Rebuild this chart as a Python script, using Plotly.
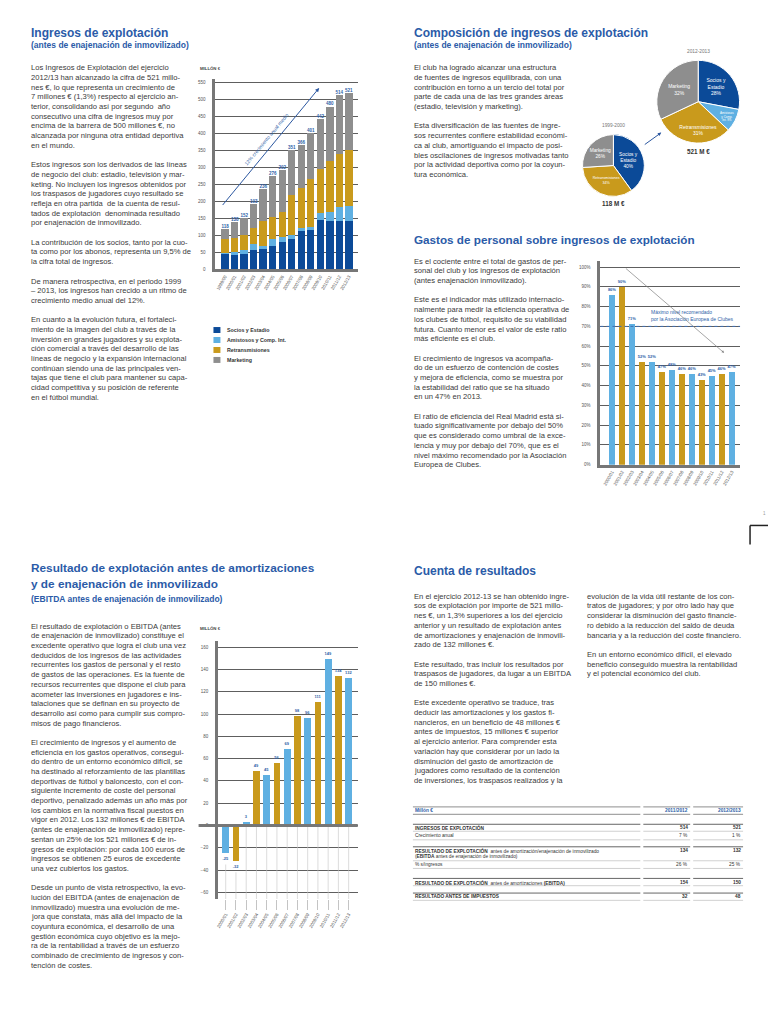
import plotly.graph_objects as go

W, H = 768, 1024
def px(x): return x / W
def py(y): return 1 - y / H

# ---------------- DATA ----------------
seasons_ing = ["1999/00", "2000/01", "2001/02", "2002/03", "2003/04", "2004/05", "2005/06",
               "2006/07", "2007/08", "2008/09", "2009/10", "2010/11", "2011/12", "2012/13"]
comp_names = ["Socios y Estadio", "Amistosos y Comp. Int.", "Retransmisiones", "Marketing"]
socios = [46, 42, 46, 56, 60, 69, 79, 88, 113, 117, 145, 143, 143, 143]
amistosos = [2, 8, 10, 17, 9, 21, 17, 13, 9, 9, 21, 27, 41, 44]
retrans = [40, 43, 46, 50, 74, 65, 74, 117, 119, 140, 130, 148, 157, 164]
marketing = [30, 45, 50, 70, 93, 121, 122, 133, 125, 135, 146, 162, 173, 170]
totals = [118, 138, 152, 193, 236, 276, 292, 351, 366, 401, 442, 480, 514, 521]
trend_label = "12% crecimiento anual medio"

pie1_title, pie2_title = "1999-2000", "2012-2013"
pie1_names = ["Socios y Estadio", "Retransmisiones", "Marketing"]
pie1_pct = [40, 34, 26]
pie2_names = ["Socios y Estadio", "Amistosos y Comp. Int.", "Retransmisiones", "Marketing"]
pie2_pct = [28, 9, 31, 32]
pie1_text = ["Socios y<br>Estadio<br>40%", "Retransmisiones<br>34%", "Marketing<br>26%"]
pie2_text = ["Socios y<br>Estadio<br>28%", "Amistosos<br>y Comp.<br>Int. 9%", "Retransmisiones<br>31%", "Marketing<br>32%"]

seasons_13 = ["2000/01", "2001/02", "2002/03", "2003/04", "2004/05", "2005/06", "2006/07",
              "2007/08", "2008/09", "2009/10", "2010/11", "2011/12", "2012/13"]
ratio_personal = [86, 90, 71, 52, 52, 47, 48, 46, 46, 43, 45, 46, 47]
max_recomendado = 70
ebitda = [-25, -32, 3, 49, 45, 56, 69, 98, 96, 111, 149, 134, 132]

table_years = ["2011/2012", "2012/2013"]
table_labels = [
    "<b>INGRESOS DE EXPLOTACIÓN</b>",
    "Crecimiento anual",
    "<b>RESULTADO DE EXPLOTACIÓN</b>  antes de amortización/enajenación de inmovilizado",
    "% s/ingresos",
    "<b>RESULTADO DE EXPLOTACIÓN</b>  antes de amortizaciones <b>(EBITDA)</b>",
    "<b>RESULTADO ANTES DE IMPUESTOS</b>",
]
table_v1 = ["514", "7 %", "134", "26 %", "154", "32"]
table_v2 = ["521", "1 %", "132", "25 %", "150", "48"]
table_bold = [True, False, True, False, True, True]

# ---------------- STYLE ----------------
C_SOC, C_AMI, C_RET, C_MKT = "#0b4a98", "#5fb0e2", "#c99a1c", "#8e8e8e"
comp_colors = [C_SOC, C_AMI, C_RET, C_MKT]
TITLE = "#2b5ba8"
LBL = "#2e5fa8"
TXT = "#3a3a3a"
AX = "#777777"
GRID = "#5e5e5e"
FONT = "Liberation Sans"
NARROW = "Liberation Sans Narrow, Liberation Sans"

fig = go.Figure()

# ---- Chart 1: stacked revenue ----
for name, vals, col in zip(comp_names, [socios, amistosos, retrans, marketing], comp_colors):
    fig.add_trace(go.Bar(x=seasons_ing, y=vals, name=name, marker=dict(color=col, line_width=0),
                         width=0.78, xaxis="x", yaxis="y", showlegend=False, hoverinfo="skip"))
fig.add_trace(go.Scatter(x=seasons_ing, y=totals, mode="text", text=[f"<b>{t}</b>" for t in totals],
                         textposition="top center", textfont=dict(size=4.5, color=LBL, family=FONT),
                         cliponaxis=False, xaxis="x", yaxis="y", showlegend=False, hoverinfo="skip"))

# ---- Chart 2: staff cost ratio ----
alt_colors = [C_AMI if i % 2 == 0 else C_RET for i in range(len(seasons_13))]
fig.add_trace(go.Bar(x=seasons_13, y=ratio_personal, marker=dict(color=alt_colors, line_width=0),
                     width=0.66, text=[f"<b>{v}%</b>" for v in ratio_personal], textposition="outside",
                     constraintext="none", cliponaxis=False,
                     textfont=dict(size=4, color=LBL, family=FONT),
                     xaxis="x2", yaxis="y2", showlegend=False, hoverinfo="skip"))

# ---- Chart 3: EBITDA ----
lx, ly = [], []
for s, v in zip(seasons_13, ebitda):
    start = 0 if v >= 0 else v - 10
    lx += [s, s, None]
    ly += [start, -66, None]
fig.add_trace(go.Scatter(x=lx, y=ly, mode="lines", line=dict(color="#c4c4c4", width=0.6),
                         xaxis="x3", yaxis="y3", showlegend=False, hoverinfo="skip"))
fig.add_trace(go.Bar(x=seasons_13, y=ebitda, marker=dict(color=alt_colors, line_width=0),
                     width=0.66, text=[f"<b>{v}</b>" for v in ebitda], textposition="outside",
                     constraintext="none", cliponaxis=False,
                     textfont=dict(size=4, color=LBL, family=FONT),
                     xaxis="x3", yaxis="y3", showlegend=False, hoverinfo="skip"))

# ---- Pies ----
fig.add_trace(go.Pie(values=pie1_pct, labels=pie1_names, text=pie1_text, textinfo="text",
                     sort=False, direction="clockwise", rotation=0,
                     marker=dict(colors=[C_SOC, C_RET, C_MKT], line=dict(color="white", width=1)),
                     domain=dict(x=[px(582), px(644)], y=[py(197), py(135)]),
                     textfont=dict(size=4.8, color="white", family=FONT),
                     textposition="inside", insidetextorientation="horizontal",
                     showlegend=False, hoverinfo="skip"))
fig.add_trace(go.Pie(values=pie2_pct, labels=pie2_names, text=pie2_text, textinfo="text",
                     sort=False, direction="clockwise", rotation=0,
                     marker=dict(colors=[C_SOC, C_AMI, C_RET, C_MKT], line=dict(color="white", width=1)),
                     domain=dict(x=[px(656.5), px(739.5)], y=[py(143.5), py(60.5)]),
                     textfont=dict(size=5, color="white", family=FONT),
                     textposition="inside", insidetextorientation="horizontal",
                     showlegend=False, hoverinfo="skip"))

tickf = dict(size=4.5, color="#555555", family=FONT)
common_y = dict(showgrid=True, gridcolor=GRID, gridwidth=0.7, showline=True, linewidth=3,
                linecolor=AX, zeroline=False, ticks="", tickfont=tickf, ticklabelstandoff=6)

fig.update_layout(
    width=W, height=H, autosize=False, margin=dict(l=0, r=0, t=0, b=0),
    paper_bgcolor="white", plot_bgcolor="white", barmode="stack",
    font=dict(family=FONT, color=TXT),
    xaxis=dict(domain=[px(214), px(357)], anchor="y", range=[-1.02, 13.97], tickangle=-60,
               tickfont=tickf, showline=True, linewidth=3, linecolor=AX, showgrid=False, ticks=""),
    yaxis=dict(domain=[py(270), py(79)], anchor="x", range=[0, 562], dtick=50, tick0=0, **common_y),
    xaxis2=dict(domain=[px(600), px(740)], anchor="y2", range=[-1.17, 12.83], tickangle=-60,
                tickfont=tickf, showline=True, linewidth=3, linecolor=AX, showgrid=False, ticks=""),
    yaxis2=dict(domain=[py(466), py(262)], anchor="x2", range=[0, 103], dtick=10, tick0=0,
                ticksuffix="%", **common_y),
    xaxis3=dict(domain=[px(216.7), px(356.7)], anchor="y3", range=[-0.74, 12.89], tickangle=-60,
                tickfont=tickf, showline=False, showgrid=False, ticks="outside", ticklen=10,
                tickcolor="#c4c4c4", tickwidth=0.6),
    yaxis3=dict(domain=[py(901.7), py(642.7)], anchor="x3", range=[-66, 165.7], dtick=20, tick0=0,
                **common_y),
)

shapes = []
ann = []

def note(x, y, text, font, xanchor="center", yanchor="middle", **kw):
    ann.append(dict(xref="paper", yref="paper", x=px(x), y=py(y), text=text, showarrow=False,
                    xanchor=xanchor, yanchor=yanchor, font=font, **kw))

# EBITDA zero line (thick, extends left)
shapes.append(dict(type="line", xref="x3 domain", yref="y3", x0=-0.14, x1=1, y0=0, y1=0,
                   line=dict(color=AX, width=3)))
# 70% recommended max
shapes.append(dict(type="line", xref="x2 domain", yref="y2", x0=0, x1=1, y0=max_recomendado,
                   y1=max_recomendado, line=dict(color="#3f6fb5", width=1, dash="dot")))
ann.append(dict(xref="x2", yref="y2", x=3.73, y=75.6, xanchor="left", yanchor="middle",
                text="Máximo nivel recomendado<br>por la Asociación Europea de Clubes",
                align="left", showarrow=False, font=dict(size=5, color=LBL, family=FONT)))
ann.append(dict(xref="x2", yref="y2", axref="x2", ayref="y2", x=11.23, y=56.6, ax=1.23, ay=100,
                text="", showarrow=True, arrowhead=2, arrowsize=0.7, arrowwidth=0.7,
                arrowcolor="#808080"))
# Trend arrow chart 1
ann.append(dict(xref="x", yref="y", axref="x", ayref="y", x=9.88, y=535, ax=-0.39, ay=185,
                text="", showarrow=True, arrowhead=2, arrowsize=0.8, arrowwidth=1,
                arrowcolor="#2b57a0"))
note(265, 139, trend_label, dict(size=5, color=LBL, family=FONT), textangle=-50.5)

# Legend chart 1
for i, (name, col) in enumerate(zip(comp_names, comp_colors)):
    yc = 331 + i * 10
    shapes.append(dict(type="rect", xref="paper", yref="paper", x0=px(212), x1=px(219),
                       y0=py(yc + 3), y1=py(yc - 3), fillcolor=col, line_width=0))
    note(224, yc, f"<b>{name}</b>", dict(size=5.3, color="#333333", family=FONT), xanchor="left")

# Unit labels
for yy in (69, 630):
    note(197, yy, "<b>MILLÓN €</b>", dict(size=4.3, color="#444444", family=FONT), xanchor="left")

# Pie captions
for (xc, yt, yb, t, tot) in [(613, 126, 204, pie1_title, totals[0]), (698, 52, 152, pie2_title, totals[-1])]:
    note(xc, yt, t, dict(size=4.8, color="#777777", family=FONT))
    note(xc, yb, f"<b>{tot} M €</b>", dict(size=6.3, color="#333333", family=FONT))
ann.append(dict(xref="paper", yref="paper", axref="pixel", ayref="pixel", x=px(661), y=py(133),
                ax=-18, ay=13, text="", showarrow=True, arrowhead=2, arrowsize=0.7,
                arrowwidth=1, arrowcolor="#2b57a0"))

# ---------------- TEXT ----------------
def title(x, y, t, size=12):
    note(x, y, f"<b>{t}</b>", dict(size=size, color=TITLE, family=FONT), xanchor="left")

def block(x, y0, lines, L=9.72, size=7.6):
    for i, ln in enumerate(lines):
        if ln:
            note(x, y0 + i * L, ln, dict(size=size, color=TXT, family=FONT), xanchor="left")

title(27, 33, "Ingresos de explotación")
title(27, 45, "(antes de enajenación de inmovilizado)", 8.5)
title(411, 33, "Composición de ingresos de explotación")
title(411, 45, "(antes de enajenación de inmovilizado)", 8.5)
title(411, 240, "Gastos de personal sobre ingresos de explotación", 11.7)
title(27, 570, "Resultado de explotación antes de amortizaciones", 11.8)
title(27, 586, "y de enajenación de inmovilizado", 11.8)
title(27, 601, "(EBITDA antes de enajenación de inmovilizado)", 8.5)
title(411, 573, "Cuenta de resultados")

block(27, 68, [
    "Los Ingresos de Explotación del ejercicio",
    "2012/13 han alcanzado la cifra de 521 millo-",
    "nes €, lo que representa un crecimiento de",
    "7 millones € (1,3%) respecto al ejercicio an-",
    "terior, consolidando así por segundo  año",
    "consecutivo una cifra de ingresos muy por",
    "encima de la barrera de 500 millones €, no",
    "alcanzada por ninguna otra entidad deportiva",
    "en el mundo.",
    "",
    "Estos ingresos son los derivados de las líneas",
    "de negocio del club: estadio, televisión y mar-",
    "keting. No incluyen los ingresos obtenidos por",
    "los traspasos de jugadores cuyo resultado se",
    "refleja en otra partida  de la cuenta de resul-",
    "tados de explotación  denominada resultado",
    "por enajenación de inmovilizado.",
    "",
    "La contribución de los socios, tanto por la cuo-",
    "ta como por los abonos, representa un 9,5% de",
    "la cifra total de ingresos.",
    "",
    "De manera retrospectiva, en el periodo 1999",
    "– 2013, los ingresos han crecido a un ritmo de",
    "crecimiento medio anual del 12%.",
    "",
    "En cuanto a la evolución futura, el fortaleci-",
    "miento de la imagen del club a través de la",
    "inversión en grandes jugadores y su explota-",
    "ción comercial a través del desarrollo de las",
    "líneas de negocio y la expansión internacional",
    "continúan siendo una de las principales ven-",
    "tajas que tiene el club para mantener su capa-",
    "cidad competitiva y su posición de referente",
    "en el fútbol mundial.",
])

block(411, 68, [
    "El club ha logrado alcanzar una estructura",
    "de fuentes de ingresos equilibrada, con una",
    "contribución en torno a un tercio del total por",
    "parte de cada una de las tres grandes áreas",
    "(estadio, televisión y marketing).",
    "",
    "Esta diversificación de las fuentes de ingre-",
    "sos recurrentes confiere estabilidad económi-",
    "ca al club, amortiguando el impacto de posi-",
    "bles oscilaciones de ingresos motivadas tanto",
    "por la actividad deportiva como por la coyun-",
    "tura económica.",
])

block(411, 262, [
    "Es el cociente entre el total de gastos de per-",
    "sonal del club y los ingresos de explotación",
    "(antes enajenación inmovilizado).",
    "",
    "Este es el indicador más utilizado internacio-",
    "nalmente para medir la eficiencia operativa de",
    "los clubes de fútbol, requisito de su viabilidad",
    "futura. Cuanto menor es el valor de este ratio",
    "más eficiente es el club.",
    "",
    "El crecimiento de ingresos va acompaña-",
    "do de un esfuerzo de contención de costes",
    "y mejora de eficiencia, como se muestra por",
    "la estabilidad del ratio que se ha situado",
    "en un 47% en 2013.",
    "",
    "El ratio de eficiencia del Real Madrid está si-",
    "tuado significativamente por debajo del 50%",
    "que es considerado como umbral de la exce-",
    "lencia y muy por debajo del 70%, que es el",
    "nivel máximo recomendado por la Asociación",
    "Europea de Clubes.",
])

block(27, 628, [
    "El resultado de explotación o EBITDA (antes",
    "de enajenación de inmovilizado) constituye el",
    "excedente operativo que logra el club una vez",
    "deducidos de los ingresos de las actividades",
    "recurrentes los gastos de personal y el resto",
    "de gastos de las operaciones. Es la fuente de",
    "recursos recurrentes que dispone el club para",
    "acometer las inversiones en jugadores e ins-",
    "talaciones que se definan en su proyecto de",
    "desarrollo así como para cumplir sus compro-",
    "misos de pago financieros.",
    "",
    "El crecimiento de ingresos y el aumento de",
    "eficiencia en los gastos operativos, consegui-",
    "do dentro de un entorno económico difícil, se",
    "ha destinado al reforzamiento de las plantillas",
    "deportivas de fútbol y baloncesto, con el con-",
    "siguiente incremento de coste del personal",
    "deportivo, penalizado además un año más por",
    "los cambios en la normativa fiscal puestos en",
    "vigor en 2012. Los 132 millones € de EBITDA",
    "(antes de enajenación de inmovilizado) repre-",
    "sentan un 25% de los 521 millones € de in-",
    "gresos de explotación: por cada 100 euros de",
    "ingresos se obtienen 25 euros de excedente",
    "una vez cubiertos los gastos.",
    "",
    "Desde un punto de vista retrospectivo, la evo-",
    "lución del EBITDA (antes de enajenación de",
    "inmovilizado) muestra una evolución de me-",
    "jora que constata, más allá del impacto de la",
    "coyuntura económica, el desarrollo de una",
    "gestión económica cuyo objetivo es la mejo-",
    "ra de la rentabilidad a través de un esfuerzo",
    "combinado de crecimiento de ingresos y con-",
    "tención de costes.",
])

block(411, 598, [
    "En el ejercicio 2012-13 se han obtenido ingre-",
    "sos de explotación por importe de 521 millo-",
    "nes €, un 1,3% superiores a los del ejercicio",
    "anterior y un resultado de explotación antes",
    "de amortizaciones y enajenación de inmovili-",
    "zado de 132 millones €.",
    "",
    "Este resultado, tras incluir los resultados por",
    "traspasos de jugadores, da lugar a un EBITDA",
    "de 150 millones €.",
    "",
    "Este excedente operativo se traduce, tras",
    "deducir las amortizaciones y los gastos fi-",
    "nancieros, en un beneficio de 48 millones €",
    "antes de impuestos, 15 millones € superior",
    "al ejercicio anterior. Para comprender esta",
    "variación hay que considerar por un lado la",
    "disminución del gasto de amortización de",
    "jugadores como resultado de la contención",
    "de inversiones, los traspasos realizados y la",
])

block(585, 598, [
    "evolución de la vida útil restante de los con-",
    "tratos de jugadores; y por otro lado hay que",
    "considerar la disminución del gasto financie-",
    "ro debido a la reducción del saldo de deuda",
    "bancaria y a la reducción del coste financiero.",
    "",
    "En un entorno económico difícil, el elevado",
    "beneficio conseguido muestra la rentabilidad",
    "y el potencial económico del club.",
])

# ---------------- TABLE ----------------
col_segments = [(412, 640), (643, 690), (693, 743)]
table_lines = [(809.3, "h"), (816.7, "h"), (826.7, "d"), (833.7, "l"), (842.3, "l"), (849.3, "d"),
               (863.3, "l"), (871.0, "l"), (881.0, "d"), (888.3, "l"), (895.7, "d"), (903.0, "l")]
line_style = {"h": ("#a5a5a5", 1.3), "d": ("#555555", 0.9), "l": ("#b0b0b0", 0.6)}
for yy, kind in table_lines:
    c, w = line_style[kind]
    for x0, x1 in col_segments:
        shapes.append(dict(type="line", xref="paper", yref="paper", x0=px(x0), x1=px(x1),
                           y0=py(yy), y1=py(yy), line=dict(color=c, width=w)))
tf = dict(size=4.8, color="#333333", family=NARROW)
tfb = dict(size=4.8, color=LBL, family=NARROW)
note(412, 813.2, "<b>Millón €</b>", tfb, xanchor="left")
for yr, xr in zip(table_years, (690, 743)):
    note(xr, 813.2, f"<b>{yr}</b>", tfb, xanchor="right")
row_y = [830.2, 838.0, 852.6, 867.3, 884.6, 899.3]
for lbl, v1, v2, b, yy in zip(table_labels, table_v1, table_v2, table_bold, row_y):
    note(412, yy, lbl, tf, xanchor="left")
    for v, xr in ((v1, 690), (v2, 743)):
        note(xr, yy, f"<b>{v}</b>" if b else v, tf, xanchor="right")
note(412, 859, "(<b>EBITDA</b> antes de enajenación de inmovilizado)", tf, xanchor="left")

# page marks
note(764, 515, "1", dict(size=4.5, color="#999999", family=FONT))
shapes.append(dict(type="line", xref="paper", yref="paper", x0=px(750), x1=px(768), y0=py(527), y1=py(527),
                   line=dict(color="#222222", width=1.5)))
shapes.append(dict(type="line", xref="paper", yref="paper", x0=px(750), x1=px(750), y0=py(527), y1=py(546),
                   line=dict(color="#222222", width=1.5)))

fig.update_layout(shapes=shapes, annotations=ann)
fig.write_html("out.html", config={"displayModeBar": False},
               post_script="document.body.style.margin='0';")
